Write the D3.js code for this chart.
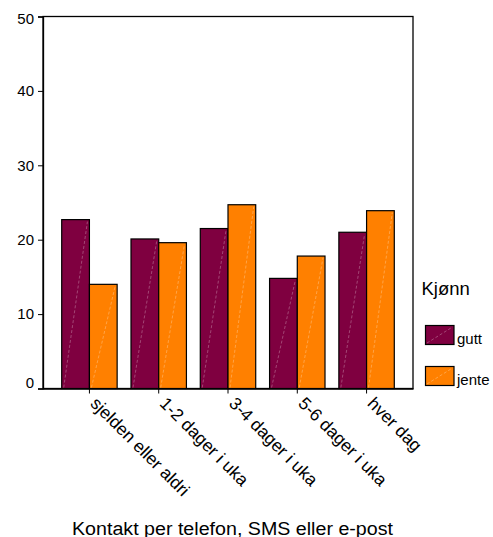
<!DOCTYPE html>
<html><head><meta charset="utf-8">
<script src="https://cdn.jsdelivr.net/npm/d3@7"></script>
<style>body{margin:0;background:#fff}svg{display:block}text{font-family:"Liberation Sans",Arial,sans-serif;fill:#000}</style>
</head><body>
<svg id="c" width="493" height="537"></svg>
<script>
const categories = ["sjelden eller aldri","1-2 dager i uka","3-4 dager i uka","5-6 dager i uka","hver dag"];
const seriesNames = ["gutt","jente"];
const gutt = [22.7, 20.1, 21.5, 14.8, 21.0];
const jente = [14.0, 19.6, 24.7, 17.8, 23.9];
const yTicks = [0,10,20,30,40,50];
const colors = ["#7f0040","#ff8000"];
const legendTitle = "Kjønn";
const xTitle = "Kontakt per telefon, SMS eller e-post";

const svg = d3.select("#c");
const L = 43, R = 413, T = 16.5, B = 388.5;
const x = d3.scaleBand().domain(categories).range([L, R]).paddingInner(0.2).paddingOuter(0.27);
const xs = d3.scaleBand().domain(seriesNames).range([0, x.bandwidth()]);
const y = d3.scaleLinear().domain([0,50]).range([B, T]);
const values = [gutt, jente];

// frame
svg.append("rect").attr("x",L).attr("y",T).attr("width",R-L).attr("height",B-T)
  .attr("fill","none").attr("stroke","#000").attr("stroke-width",1.3);

// bars
const g = svg.append("g");
categories.forEach((c,i)=>{
  seriesNames.forEach((s,j)=>{
    const bx = x(c)+xs(s), bw = xs.bandwidth(), v = values[j][i];
    g.append("rect").attr("x",bx).attr("y",y(v)).attr("width",bw).attr("height",y(0)-y(v))
      .attr("fill",colors[j]).attr("stroke","#000").attr("stroke-width",1.2);
    g.append("line").attr("x1",bx+2).attr("y1",y(0)-1).attr("x2",bx+bw-2).attr("y2",y(v)+2)
      .attr("stroke","#fff").attr("stroke-opacity",0.35).attr("stroke-width",0.8).attr("stroke-dasharray","3,2");
  });
});

// y axis
const ya = svg.append("g").attr("transform",`translate(${L},0)`)
  .call(d3.axisLeft(y).tickValues(yTicks).tickSize(5).tickPadding(4).tickFormat(d3.format("d")));
ya.select(".domain").attr("stroke","#000").attr("stroke-width",1.3);
ya.selectAll("line").attr("stroke","#000");
ya.selectAll("text").style("font-size","15px").attr("fill","#000")
  .attr("y", d => d === 0 ? -6 : (d === 50 ? 2 : 0));

// x axis
const xa = svg.append("g").attr("transform",`translate(0,${B})`)
  .call(d3.axisBottom(x).tickSize(5).tickSizeOuter(0));
xa.select(".domain").attr("stroke","#000").attr("stroke-width",1.3);
xa.selectAll("line").attr("stroke","#000");
xa.selectAll("text").style("font-size","17.5px").attr("fill","#000")
  .attr("text-anchor","start").attr("dy",null).attr("y",null)
  .attr("transform","translate(0,16) rotate(45)");

// legend
svg.append("text").attr("x",421.5).attr("y",295).style("font-size","18.5px").text(legendTitle);
seriesNames.forEach((s,j)=>{
  const ly = 325.5 + j*41;
  svg.append("rect").attr("x",425.5).attr("y",ly).attr("width",28.5).attr("height",19)
    .attr("fill",colors[j]).attr("stroke","#000").attr("stroke-width",1.2);
  svg.append("line").attr("x1",427).attr("y1",ly+17.5).attr("x2",452.5).attr("y2",ly+1.5)
    .attr("stroke","#fff").attr("stroke-opacity",0.35).attr("stroke-width",0.8).attr("stroke-dasharray","3,2");
  svg.append("text").attr("x",457).attr("y",ly+18).style("font-size","15px").text(s);
});

// x title
svg.append("text").attr("x",72).attr("y",534.5)
  .attr("textLength",321).attr("lengthAdjust","spacingAndGlyphs")
  .style("font-size","18px").text(xTitle);
</script>
</body></html>
